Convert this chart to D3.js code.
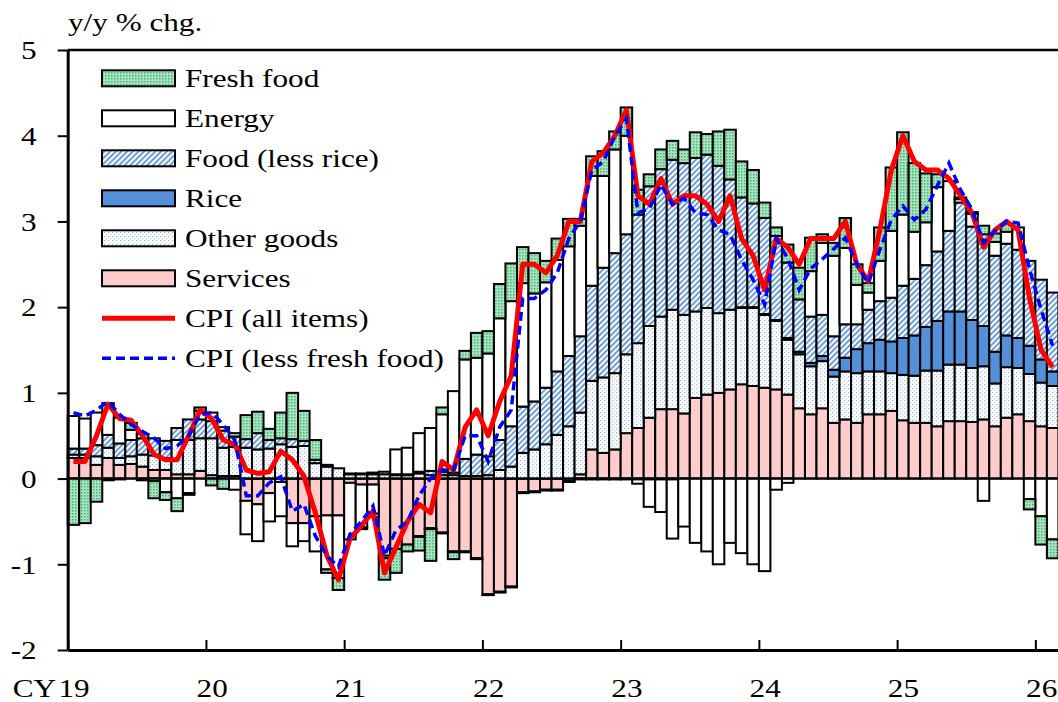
<!DOCTYPE html>
<html>
<head>
<meta charset="utf-8">
<script src="https://cdn.jsdelivr.net/npm/d3@7"></script>
<style>
  body { margin: 0; background: #fff; }
  svg { display: block; }
  text { font-family: "Liberation Serif", "Times New Roman", serif; fill: #000; }
</style>
</head>
<body>
<div id="chart"></div>
<script>
// contributions to y/y % chg., monthly Jan 2019 - Feb 2026
const services = [
  .24, .24, .16, .24, .16, .17, .14, .10, .10, .05, .05, .09,
  .04, .03, .03, -.26, -.30, -.17, -.04, -.52, -.52, -.44, -.43, -.43,
  -.05, -.07, -.07, -.90, -.82, -.77, -.67, -.58, -.63, -.85, -.85, -.93,
  -1.35, -1.32, -1.26, -.16, -.15, -.13, -.13, -.03, .05, .34, .30, .34,
  .53, .59, .71, .81, .81, .76, .94, .98, 1.00, 1.04, 1.10, 1.08,
  1.06, 1.04, .98, .82, .75, .82, .65, .69, .65, .75, .75, .79,
  .68, .65, .65, .61, .67, .67, .66, .69, .61, .71, .75, .67,
  .61, .59
];
const otherGoods = [
  .04, .04, .10, .12, .08, .09, .14, .17, .14, .40, .40, .38,
  .43, .33, .34, .36, .34, .35, .40, .37, .38, .18, .14, .12,
  .05, .05, .05, .05, .04, .04, .06, .04, .04, .04, .03, .03,
  .04, .10, .14, .30, .34, .40, .51, .61, .72, .80, .88, .89,
  .92, .99, 1.07, 1.08, 1.16, 1.15, 1.01, 1.01, .93, .93, .89, .91,
  .85, .80, .64, .63, .56, .55, .54, .56, .58, .50, .50, .44,
  .53, .55, .61, .65, .66, .66, .63, .62, .50, .59, .54, .55,
  .51, .49
];
const rice = [
  0, 0, 0, 0, 0, 0, 0, 0, 0, 0, 0, 0,
  0, 0, 0, 0, 0, 0, 0, 0, 0, 0, 0, 0,
  0, 0, 0, 0, 0, 0, -.01, -.01, -.01, -.01, -.01, -.01,
  -.01, -.01, -.01, -.01, -.01, -.01, -.01, -.01, -.01, -.01, -.01, -.01,
  -.01, -.01, -.01, -.01, -.01, 0, 0, 0, 0, 0, .01, .01,
  .01, .01, .02, .03, .04, .06, .08, .16, .28, .33, .37, .37,
  .43, .47, .51, .58, .62, .62, .56, .47, .37, .37, .35, .33,
  .27, .17
];
const foodLessRice = [
  .07, .07, .13, .15, .17, .19, .19, .20, .20, .14, .24, .22,
  .20, .20, .12, .10, .19, .10, .07, .09, .06, .04, .02, 0,
  .01, .01, .02, .03, .01, .01, .02, .05, .04, .03, .20, .25,
  .22, .35, .47, .54, .56, .66, .74, .82, .89, 1.11, 1.28, 1.40,
  1.40, 1.50, 1.63, 1.72, 1.75, 1.77, 1.79, 1.79, 1.72, 1.52, 1.28, 1.21,
  1.12, .98, .88, .61, .54, .48, .39, .39, .29, .39, .45, .51,
  .61, .66, .72, .81, .94, 1.27, 1.09, 1.07, 1.12, 1.07, 1.03, .99,
  .93, .92
];
const energy = [
  .38, .35, .38, .37, .30, .12, .05, -.03, -.16, -.23, -.17, .10,
  .10, .04, -.13, -.39, -.43, -.33, -.40, -.27, -.21, -.41, -.63, -.73,
  -.66, -.50, -.34, -.03, .29, .31, .45, .50, .67, .95, 1.16, 1.13,
  1.20, 1.42, 1.46, 1.44, 1.26, 1.23, 1.30, 1.28, 1.29, 1.28, 1.07, 1.21,
  1.15, -.05, -.32, -.38, -.69, -.56, -.75, -.85, -1.00, -.75, -.87, -1.00,
  -1.08, -.13, -.05, 0, .53, .84, .94, .89, .46, .20, .47, .78,
  .83, .55, .50, .75, .58, .04, .15, -.26, .16, .14, .26, -.24,
  -.44, -.71
];
const freshFood = [
  -.54, -.52, -.27, -.02, -.01, .08, -.02, -.20, -.09, -.15, -.02, .04,
  -.08, -.12, .04, .28, .25, .13, .30, .54, .35, .23, -.04, -.14,
  0, -.02, -.04, -.25, -.28, -.08, -.16, -.37, .08, -.08, .10, .29,
  .26, .40, .44, .42, .47, .25, .25, .32, .08, .23, .29, .21,
  .33, .29, .14, .23, .22, .16, .30, .24, .40, .58, .42, .39,
  .18, .10, .21, .37, .39, .10, .15, .35, .24, .11, .39, .74,
  .96, .80, .57, .15, 0, .02, .02, .10, .10, .09, 0, -.12,
  -.33, -.22
];
const cpiAll = [
  .2, .2, .5, .87, .7, .68, .5, .28, .22, .22, .5, .8,
  .7, .45, .4, .1, .06, .08, .32, .22, .03, -.4, -.9, -1.18,
  -.7, -.55, -.38, -1.1, -.8, -.5, -.3, -.4, .2, .1, .6, .8,
  .5, .9, 1.2, 2.5, 2.5, 2.4, 2.6, 3.0, 3.0, 3.7, 3.8, 4.0,
  4.3, 3.3, 3.2, 3.5, 3.2, 3.3, 3.3, 3.2, 3.0, 3.3, 2.8, 2.6,
  2.2, 2.8, 2.7, 2.5, 2.8, 2.8, 2.8, 3.0, 2.5, 2.3, 2.9, 3.6,
  4.0, 3.7, 3.6, 3.6, 3.5, 3.3, 3.1, 2.7, 2.9, 3.0, 2.9, 2.1,
  1.5, 1.3
];
const cpiLessFresh = [
  .77, .73, .8, .9, .75, .63, .55, .47, .35, .38, .5, .75,
  .77, .63, .45, -.2, -.2, -.05, .02, -.38, -.3, -.67, -.9, -1.03,
  -.65, -.5, -.32, -.9, -.6, -.5, -.2, 0, .1, .1, .5, .5,
  .2, .6, .8, 2.1, 2.1, 2.2, 2.4, 2.8, 3.0, 3.6, 3.7, 4.0,
  4.2, 3.1, 3.15, 3.43, 3.2, 3.27, 3.1, 3.08, 2.9, 2.85, 2.55, 2.32,
  2.03, 2.8, 2.57, 2.2, 2.45, 2.56, 2.68, 2.81, 2.5, 2.28, 2.67, 3.02,
  3.18, 3.02, 3.14, 3.42, 3.68, 3.37, 3.14, 2.75, 2.89, 3.0, 2.98, 2.44,
  1.97, 1.55
];
const yearLabels = ["19", "20", "21", "22", "23", "24", "25", "26"];
const yTicks = [-2, -1, 0, 1, 2, 3, 4, 5];

const months = d3.timeMonth.range(new Date(2019, 0, 1), new Date(2026, 2, 1));

const width = 1058, height = 702;
const margin = { top: 50, left: 67.7, bottom: 52 };
const plotRight = 1058.4;
const fontSize = 26, sx = 1.2;

const keys = ["services", "otherGoods", "rice", "foodLessRice", "energy", "freshFood"];
const rows = months.map((m, i) => ({
  i,
  services: services[i],
  otherGoods: otherGoods[i],
  rice: rice[i],
  foodLessRice: foodLessRice[i],
  energy: energy[i],
  freshFood: freshFood[i],
}));

const x = d3.scaleBand()
  .domain(d3.range(months.length))
  .range([margin.left, plotRight])
  .padding(0);

const y = d3.scaleLinear()
  .domain([-2, 5])
  .range([height - margin.bottom, margin.top]);

const svg = d3.select("#chart")
  .append("svg")
  .attr("width", width)
  .attr("height", height);

svg.append("rect").attr("width", width).attr("height", height).attr("fill", "#fff");

// fill patterns
const defs = svg.append("defs");
defs.append("pattern")
  .attr("id", "pFresh").attr("patternUnits", "userSpaceOnUse")
  .attr("width", 3).attr("height", 3)
  .call(p => {
    p.append("rect").attr("width", 3).attr("height", 3).attr("fill", "#a9e3bf");
    p.append("rect").attr("width", 1.5).attr("height", 1.5).attr("fill", "#45b574");
  });
defs.append("pattern")
  .attr("id", "pHatch").attr("patternUnits", "userSpaceOnUse")
  .attr("width", 4).attr("height", 4)
  .attr("patternTransform", "rotate(45)")
  .call(p => {
    p.append("rect").attr("width", 4).attr("height", 4).attr("fill", "#ffffff");
    p.append("line").attr("x1", 1).attr("x2", 1).attr("y1", 0).attr("y2", 4)
      .attr("stroke", "#6b9fdc").attr("stroke-width", 2);
  });
defs.append("pattern")
  .attr("id", "pDots").attr("patternUnits", "userSpaceOnUse")
  .attr("width", 4).attr("height", 4)
  .call(p => {
    p.append("rect").attr("width", 4).attr("height", 4).attr("fill", "#ffffff");
    p.append("rect").attr("x", 0).attr("y", 0).attr("width", 1.2).attr("height", 1.2).attr("fill", "#8db8ea");
    p.append("rect").attr("x", 2).attr("y", 2).attr("width", 1.2).attr("height", 1.2).attr("fill", "#b5d0f2");
  });

const fills = {
  services: "#ffcccc",
  otherGoods: "url(#pDots)",
  rice: "#558fd8",
  foodLessRice: "url(#pHatch)",
  energy: "#ffffff",
  freshFood: "url(#pFresh)",
};

const series = d3.stack().keys(keys).offset(d3.stackOffsetDiverging)(rows);

svg.append("g")
  .selectAll("g")
  .data(series)
  .join("g")
  .attr("fill", d => fills[d.key])
  .attr("stroke", "#000")
  .attr("stroke-width", 2)
  .selectAll("rect")
  .data(d => d.filter(v => v[1] !== v[0]))
  .join("rect")
  .attr("x", d => x(d.data.i))
  .attr("y", d => y(Math.max(d[0], d[1])))
  .attr("width", x.bandwidth())
  .attr("height", d => Math.abs(y(d[0]) - y(d[1])));

// zero line
svg.append("line")
  .attr("x1", margin.left).attr("x2", plotRight)
  .attr("y1", y(0)).attr("y2", y(0))
  .attr("stroke", "#000").attr("stroke-width", 2);

// CPI lines
const line = d3.line()
  .x((d, i) => x(i) + x.bandwidth() / 2)
  .y(d => y(d));

svg.append("path")
  .datum(cpiAll)
  .attr("fill", "none")
  .attr("stroke", "#ff0000")
  .attr("stroke-width", 5)
  .attr("stroke-linejoin", "round")
  .attr("d", line);

svg.append("path")
  .datum(cpiLessFresh)
  .attr("fill", "none")
  .attr("stroke", "#0000ff")
  .attr("stroke-width", 3.5)
  .attr("stroke-dasharray", "9,5")
  .attr("d", line);

// frame and axes
svg.append("line")
  .attr("x1", margin.left).attr("x2", plotRight)
  .attr("y1", margin.top).attr("y2", margin.top)
  .attr("stroke", "#000").attr("stroke-width", 2.5);

const yAxis = g => g
  .attr("transform", `translate(${margin.left},0)`)
  .call(d3.axisLeft(y).tickValues(yTicks).tickFormat(d => String(d)).tickSize(10).tickSizeOuter(0))
  .call(g => g.select(".domain").attr("stroke-width", 3))
  .call(g => g.selectAll(".tick line").attr("stroke-width", 2))
  .call(g => g.selectAll(".tick text")
    .attr("x", null).attr("dy", "0.34em")
    .attr("transform", `translate(-31,0) scale(${sx},1)`)
    .attr("font-size", fontSize)
    .attr("font-family", null));

const xl = d3.scaleLinear().domain([0, months.length]).range([margin.left, plotRight]);
const xAxis = g => g
  .attr("transform", `translate(0,${height - margin.bottom})`)
  .call(d3.axisBottom(xl)
    .tickValues(yearLabels.map((s, k) => k * 12))
    .tickFormat((d, k) => yearLabels[k])
    .tickSize(-10).tickSizeOuter(0))
  .call(g => g.select(".domain").attr("stroke-width", 3))
  .call(g => g.selectAll(".tick line").attr("stroke-width", 2))
  .call(g => g.selectAll(".tick text")
    .attr("y", null).attr("dy", null)
    .attr("transform", `translate(${x.bandwidth() / 2},47) scale(${sx},1)`)
    .attr("font-size", fontSize)
    .attr("font-family", null));

svg.append("g").call(yAxis);
svg.append("g").call(xAxis);

const label = (px, py, txt, anchor) => svg.append("text")
  .attr("transform", `translate(${px},${py}) scale(${sx},1)`)
  .attr("text-anchor", anchor)
  .attr("font-size", fontSize)
  .text(txt);

label(56, height - margin.bottom + 47, "CY", "end");
label(68, 31, "y/y % chg.", "start");

// legend
const legend = [
  { name: "Fresh food", fill: fills.freshFood },
  { name: "Energy", fill: fills.energy },
  { name: "Food (less rice)", fill: fills.foodLessRice },
  { name: "Rice", fill: fills.rice },
  { name: "Other goods", fill: fills.otherGoods },
  { name: "Services", fill: fills.services },
  { name: "CPI (all items)", color: "#ff0000", dash: null, w: 5 },
  { name: "CPI (less fresh food)", color: "#0000ff", dash: "9,5", w: 3.5 },
];

const lg = svg.append("g");
legend.forEach((d, k) => {
  const cy = 78.3 + k * 40;
  if (d.fill) {
    lg.append("rect")
      .attr("x", 102).attr("y", cy - 8)
      .attr("width", 73).attr("height", 16)
      .attr("fill", d.fill).attr("stroke", "#000").attr("stroke-width", 2);
  } else {
    lg.append("line")
      .attr("x1", 102).attr("x2", 175).attr("y1", cy).attr("y2", cy)
      .attr("stroke", d.color).attr("stroke-width", d.w)
      .attr("stroke-dasharray", d.dash);
  }
  label(185, cy + 9, d.name, "start");
});
</script>
</body>
</html>
